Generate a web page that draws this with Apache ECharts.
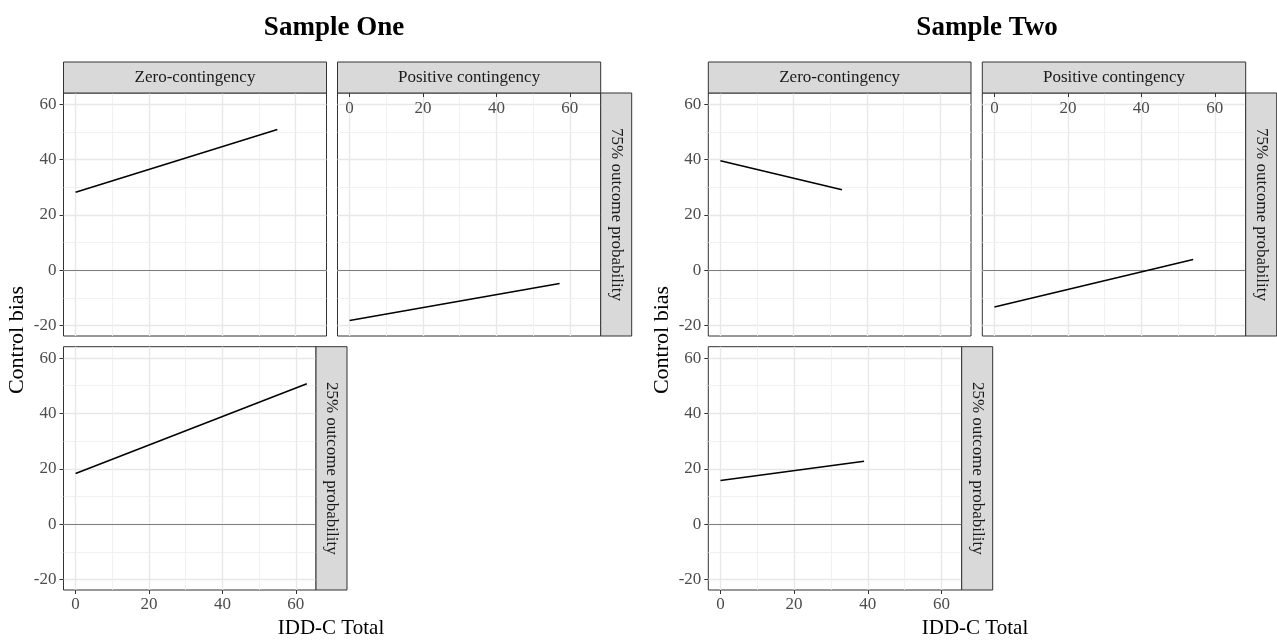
<!DOCTYPE html>
<html>
<head>
<meta charset="utf-8">
<title>Control bias by IDD-C Total</title>
<script src="https://cdn.jsdelivr.net/npm/echarts@6/dist/echarts.min.js"></script>
<style>
  html, body { margin: 0; padding: 0; background: #fff; }
  #chart { width: 1277px; height: 640px; }
</style>
</head>
<body>
<div id="chart"></div>
<script>
// ---------- data ----------
const sampleTitles = ['Sample One', 'Sample Two'];
const colLabels = ['Zero-contingency', 'Positive contingency'];
const rowLabels = ['75% outcome probability', '25% outcome probability'];
const xTitle = 'IDD-C Total';
const yTitle = 'Control bias';

const xTicks = [0, 20, 40, 60];
const xMinor = [10, 30, 50];
const yTicks = [-20, 0, 20, 40, 60];
const yMinor = [-10, 10, 30, 50];

// fitted lines: [IDD-C Total, Control bias] endpoints
const s1Zero75 = [[0, 28.2], [55.0, 50.9]];
const s1Pos75  = [[0, -18.2], [57.2, -4.8]];
const s1Zero25 = [[0, 18.3], [63.0, 50.7]];
const s2Zero75 = [[0, 39.6], [33.2, 29.1]];
const s2Pos75  = [[0, -13.3], [54.1, 3.9]];
const s2Zero25 = [[0, 15.8], [39.0, 22.7]];

// ---------- layout ----------
const FONT = "'Liberation Serif', 'Times New Roman', serif";
const X_MIN = -3.3, X_MAX_TOP = 68.4, X_MAX_BOTTOM = 65.5;
const Y_MIN = -23.8, Y_MAX = 64.1;
const STRIP = 31;

const panels = [
  { data: s1Zero75, left: 63.5,  top: 93,    width: 263,   height: 243,   xMax: X_MAX_TOP,    yLab: true,  xMode: 'none',   col: 0, row: null },
  { data: s1Pos75,  left: 337.5, top: 93,    width: 263.2, height: 243,   xMax: X_MAX_TOP,    yLab: false, xMode: 'top',    col: 1, row: 0 },
  { data: s1Zero25, left: 63.5,  top: 346.7, width: 252.5, height: 243.3, xMax: X_MAX_BOTTOM, yLab: true,  xMode: 'bottom', col: null, row: 1 },
  { data: s2Zero75, left: 708.3, top: 93,    width: 262.7, height: 243,   xMax: X_MAX_TOP,    yLab: true,  xMode: 'none',   col: 0, row: null },
  { data: s2Pos75,  left: 982.3, top: 93,    width: 263.4, height: 243,   xMax: X_MAX_TOP,    yLab: false, xMode: 'top',    col: 1, row: 0 },
  { data: s2Zero25, left: 708.3, top: 346.7, width: 253.4, height: 243.3, xMax: X_MAX_BOTTOM, yLab: true,  xMode: 'bottom', col: null, row: 1 }
];

const grids = [], xAxes = [], yAxes = [], series = [], graphics = [];

function txt(text, x, y, size, opts) {
  opts = opts || {};
  return {
    type: 'text', x: x, y: y, rotation: opts.rotation || 0, silent: true, z: 100,
    style: {
      text: text, fill: opts.fill || '#000',
      font: (opts.bold ? 'bold ' : '') + size + 'px ' + FONT,
      align: 'center', verticalAlign: 'middle',
      textAlign: 'center', textVerticalAlign: 'middle'
    }
  };
}

panels.forEach(function (p, i) {
  grids.push({
    left: p.left, top: p.top, width: p.width, height: p.height,
    show: true, borderColor: '#333333', borderWidth: 1, backgroundColor: '#ffffff',
    containLabel: false, outerBoundsMode: 'none'
  });
  const showX = p.xMode !== 'none';
  xAxes.push({
    gridIndex: i, type: 'value', min: X_MIN, max: p.xMax,
    position: p.xMode === 'top' ? 'top' : 'bottom',
    axisLine: { show: false, onZero: false },
    axisTick: { show: showX, inside: p.xMode === 'top', length: 4, customValues: xTicks,
                lineStyle: { color: '#333333', width: 1 } },
    axisLabel: { show: showX, inside: p.xMode === 'top', margin: p.xMode === 'top' ? 7 : 6,
                 customValues: xTicks, color: '#4d4d4d', fontSize: 17, fontFamily: FONT },
    splitLine: { show: true, lineStyle: { color: '#e8e8e8', width: 1.4 } },
    minorSplitLine: { show: false }
  });
  yAxes.push({
    gridIndex: i, type: 'value', min: Y_MIN, max: Y_MAX,
    position: 'left',
    axisLine: { show: false, onZero: false },
    axisTick: { show: p.yLab, length: 4, customValues: yTicks,
                lineStyle: { color: '#333333', width: 1 } },
    axisLabel: { show: p.yLab, margin: 7, customValues: yTicks,
                 color: '#4d4d4d', fontSize: 17, fontFamily: FONT },
    splitLine: { show: true, lineStyle: { color: '#e8e8e8', width: 1.4 } }
  });
  const guide = xMinor.map(function (v) {
    return { xAxis: v, lineStyle: { color: '#ededed', width: 0.8, type: 'solid' } };
  }).concat(yMinor.map(function (v) {
    return { yAxis: v, lineStyle: { color: '#ededed', width: 0.8, type: 'solid' } };
  })).concat([{ yAxis: 0, lineStyle: { color: '#7f7f7f', width: 1, type: 'solid' } }]);
  series.push({
    type: 'line', xAxisIndex: i, yAxisIndex: i, data: p.data,
    symbol: 'none', showSymbol: false, silent: true, z: 3,
    lineStyle: { color: '#000000', width: 1.5 },
    markLine: {
      silent: true, symbol: ['none', 'none'], z: 1, animation: false,
      label: { show: false }, emphasis: { disabled: true },
      data: guide
    }
  });
  // strips
  if (p.col !== null) {
    graphics.push({
      type: 'rect', silent: true, z: 50,
      shape: { x: p.left, y: p.top - STRIP, width: p.width, height: STRIP },
      style: { fill: '#d9d9d9', stroke: '#333333', lineWidth: 1 }
    });
    graphics.push(txt(colLabels[p.col], p.left + p.width / 2, p.top - STRIP / 2, 17, { fill: '#1a1a1a' }));
  }
  if (p.row !== null) {
    graphics.push({
      type: 'rect', silent: true, z: 50,
      shape: { x: p.left + p.width, y: p.top, width: STRIP, height: p.height },
      style: { fill: '#d9d9d9', stroke: '#333333', lineWidth: 1 }
    });
    graphics.push(txt(rowLabels[p.row], p.left + p.width + STRIP / 2, p.top + p.height / 2, 17,
      { fill: '#1a1a1a', rotation: -Math.PI / 2 }));
  }
});

// titles and axis titles
graphics.push(txt(sampleTitles[0], 334, 28, 27, { bold: true }));
graphics.push(txt(sampleTitles[1], 987, 28, 27, { bold: true }));
graphics.push(txt(yTitle, 17, 340, 22, { rotation: Math.PI / 2 }));
graphics.push(txt(yTitle, 662, 340, 22, { rotation: Math.PI / 2 }));
graphics.push(txt(xTitle, 331, 628, 21));
graphics.push(txt(xTitle, 975, 628, 21));

const chart = echarts.init(document.getElementById('chart'), null, { renderer: 'canvas' });
chart.setOption({
  animation: false,
  backgroundColor: '#ffffff',
  grid: grids,
  xAxis: xAxes,
  yAxis: yAxes,
  series: series,
  graphic: { elements: graphics }
});
</script>
</body>
</html>
